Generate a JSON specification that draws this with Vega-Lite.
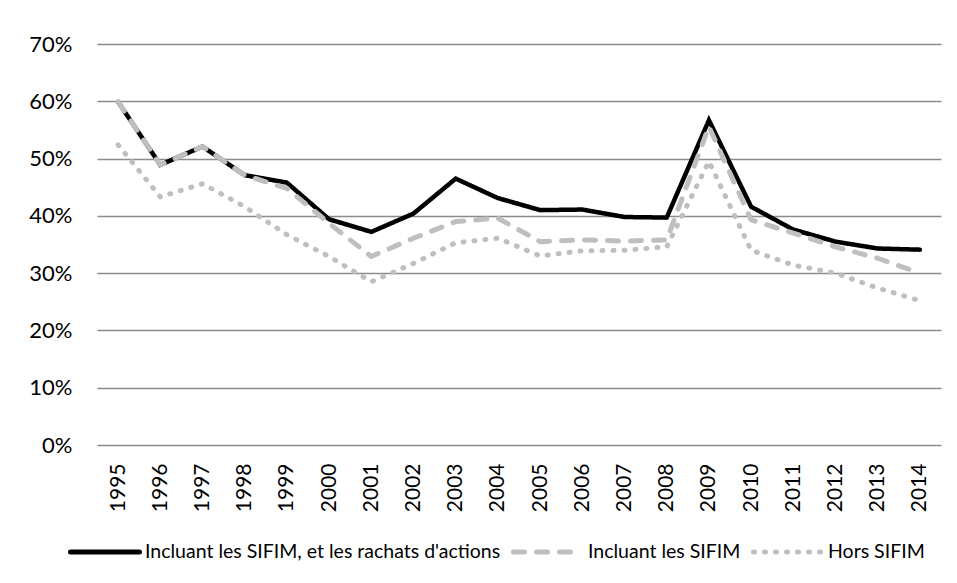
{
  "$schema": "https://vega.github.io/schema/vega-lite/v6.json",
  "width": 844,
  "height": 401,
  "autosize": {"type": "none"},
  "padding": {"left": 97, "top": 44, "right": 16, "bottom": 138},
  "background": "white",
  "config": {"view": {"stroke": null}, "font": "Lato"},
  "data": {
    "values": [
      {"year": "1995", "series": "Incluant les SIFIM, et les rachats d'actions", "value": 0.599},
      {"year": "1996", "series": "Incluant les SIFIM, et les rachats d'actions", "value": 0.489},
      {"year": "1997", "series": "Incluant les SIFIM, et les rachats d'actions", "value": 0.521},
      {"year": "1998", "series": "Incluant les SIFIM, et les rachats d'actions", "value": 0.471},
      {"year": "1999", "series": "Incluant les SIFIM, et les rachats d'actions", "value": 0.458},
      {"year": "2000", "series": "Incluant les SIFIM, et les rachats d'actions", "value": 0.394},
      {"year": "2001", "series": "Incluant les SIFIM, et les rachats d'actions", "value": 0.372},
      {"year": "2002", "series": "Incluant les SIFIM, et les rachats d'actions", "value": 0.404},
      {"year": "2003", "series": "Incluant les SIFIM, et les rachats d'actions", "value": 0.465},
      {"year": "2004", "series": "Incluant les SIFIM, et les rachats d'actions", "value": 0.431},
      {"year": "2005", "series": "Incluant les SIFIM, et les rachats d'actions", "value": 0.410},
      {"year": "2006", "series": "Incluant les SIFIM, et les rachats d'actions", "value": 0.411},
      {"year": "2007", "series": "Incluant les SIFIM, et les rachats d'actions", "value": 0.398},
      {"year": "2008", "series": "Incluant les SIFIM, et les rachats d'actions", "value": 0.397},
      {"year": "2009", "series": "Incluant les SIFIM, et les rachats d'actions", "value": 0.567},
      {"year": "2010", "series": "Incluant les SIFIM, et les rachats d'actions", "value": 0.416},
      {"year": "2011", "series": "Incluant les SIFIM, et les rachats d'actions", "value": 0.376},
      {"year": "2012", "series": "Incluant les SIFIM, et les rachats d'actions", "value": 0.355},
      {"year": "2013", "series": "Incluant les SIFIM, et les rachats d'actions", "value": 0.343},
      {"year": "2014", "series": "Incluant les SIFIM, et les rachats d'actions", "value": 0.341},
      {"year": "1995", "series": "Incluant les SIFIM", "value": 0.599},
      {"year": "1996", "series": "Incluant les SIFIM", "value": 0.489},
      {"year": "1997", "series": "Incluant les SIFIM", "value": 0.521},
      {"year": "1998", "series": "Incluant les SIFIM", "value": 0.471},
      {"year": "1999", "series": "Incluant les SIFIM", "value": 0.448},
      {"year": "2000", "series": "Incluant les SIFIM", "value": 0.387},
      {"year": "2001", "series": "Incluant les SIFIM", "value": 0.329},
      {"year": "2002", "series": "Incluant les SIFIM", "value": 0.361},
      {"year": "2003", "series": "Incluant les SIFIM", "value": 0.390},
      {"year": "2004", "series": "Incluant les SIFIM", "value": 0.396},
      {"year": "2005", "series": "Incluant les SIFIM", "value": 0.355},
      {"year": "2006", "series": "Incluant les SIFIM", "value": 0.358},
      {"year": "2007", "series": "Incluant les SIFIM", "value": 0.356},
      {"year": "2008", "series": "Incluant les SIFIM", "value": 0.358},
      {"year": "2009", "series": "Incluant les SIFIM", "value": 0.556},
      {"year": "2010", "series": "Incluant les SIFIM", "value": 0.393},
      {"year": "2011", "series": "Incluant les SIFIM", "value": 0.370},
      {"year": "2012", "series": "Incluant les SIFIM", "value": 0.346},
      {"year": "2013", "series": "Incluant les SIFIM", "value": 0.326},
      {"year": "2014", "series": "Incluant les SIFIM", "value": 0.300},
      {"year": "1995", "series": "Hors SIFIM", "value": 0.524},
      {"year": "1996", "series": "Hors SIFIM", "value": 0.433},
      {"year": "1997", "series": "Hors SIFIM", "value": 0.456},
      {"year": "1998", "series": "Hors SIFIM", "value": 0.416},
      {"year": "1999", "series": "Hors SIFIM", "value": 0.367},
      {"year": "2000", "series": "Hors SIFIM", "value": 0.329},
      {"year": "2001", "series": "Hors SIFIM", "value": 0.285},
      {"year": "2002", "series": "Hors SIFIM", "value": 0.317},
      {"year": "2003", "series": "Hors SIFIM", "value": 0.353},
      {"year": "2004", "series": "Hors SIFIM", "value": 0.361},
      {"year": "2005", "series": "Hors SIFIM", "value": 0.330},
      {"year": "2006", "series": "Hors SIFIM", "value": 0.339},
      {"year": "2007", "series": "Hors SIFIM", "value": 0.340},
      {"year": "2008", "series": "Hors SIFIM", "value": 0.346},
      {"year": "2009", "series": "Hors SIFIM", "value": 0.495},
      {"year": "2010", "series": "Hors SIFIM", "value": 0.340},
      {"year": "2011", "series": "Hors SIFIM", "value": 0.314},
      {"year": "2012", "series": "Hors SIFIM", "value": 0.300},
      {"year": "2013", "series": "Hors SIFIM", "value": 0.274},
      {"year": "2014", "series": "Hors SIFIM", "value": 0.252}
    ]
  },
  "encoding": {
    "x": {
      "field": "year", "type": "ordinal", "sort": null,
      "scale": {"padding": 0.5},
      "axis": {"title": null, "labelAngle": -90, "domain": false, "ticks": false, "grid": false,
               "labelPadding": 18, "labelFontSize": 21, "labelFont": "Lato", "labelColor": "#000000"}
    },
    "y": {
      "field": "value", "type": "quantitative",
      "scale": {"domain": [0, 0.7], "nice": false},
      "axis": {"title": null, "values": [0, 0.1, 0.2, 0.3, 0.4, 0.5, 0.6, 0.7], "format": ".0%",
               "domain": false, "ticks": false, "grid": true, "gridColor": "#8c8c8c", "gridWidth": 1.3,
               "labelFont": "Lato", "labelFontSize": 22, "labelColor": "#000000", "labelPadding": 25}
    },
    "color": {
      "field": "series", "type": "nominal",
      "scale": {"domain": ["Incluant les SIFIM, et les rachats d'actions", "Incluant les SIFIM", "Hors SIFIM"],
                "range": ["#000000", "#bfbfbf", "#bfbfbf"]},
      "legend": {"title": null, "orient": "none", "legendX": -29, "legendY": 471, "direction": "horizontal",
                 "symbolType": "stroke", "symbolSize": 4761, "symbolStrokeWidth": 5,
                 "labelFont": "Lato", "labelFontSize": 19.5, "labelColor": "#000000", "labelOffset": 3,
                 "columnPadding": 2, "labelLimit": 600,
                 "encode": {"symbols": {"update": {"strokeCap": {"value": "round"}}}}}
    },
    "strokeDash": {
      "field": "series", "type": "nominal",
      "scale": {"domain": ["Incluant les SIFIM, et les rachats d'actions", "Incluant les SIFIM", "Hors SIFIM"],
                "range": [[1, 0], [11, 12], [1, 10]]},
      "legend": {"title": null, "orient": "none", "legendX": -29, "legendY": 471, "direction": "horizontal",
                 "symbolType": "stroke", "symbolSize": 4761, "symbolStrokeWidth": 5,
                 "labelFont": "Lato", "labelFontSize": 19.5, "labelColor": "#000000", "labelOffset": 3,
                 "columnPadding": 2, "labelLimit": 600,
                 "encode": {"symbols": {"update": {"strokeCap": {"value": "round"}}}}}
    }
  },
  "layer": [
    {
      "transform": [{"filter": {"field": "series", "equal": "Incluant les SIFIM, et les rachats d'actions"}}],
      "mark": {"type": "line", "strokeWidth": 4.5, "strokeCap": "round"}
    },
    {
      "transform": [{"filter": {"field": "series", "equal": "Incluant les SIFIM"}}],
      "mark": {"type": "line", "strokeWidth": 5, "strokeCap": "round", "strokeJoin": "round"}
    },
    {
      "transform": [{"filter": {"field": "series", "equal": "Hors SIFIM"}}],
      "mark": {"type": "line", "strokeWidth": 5, "strokeCap": "round", "strokeJoin": "round"}
    }
  ]
}
